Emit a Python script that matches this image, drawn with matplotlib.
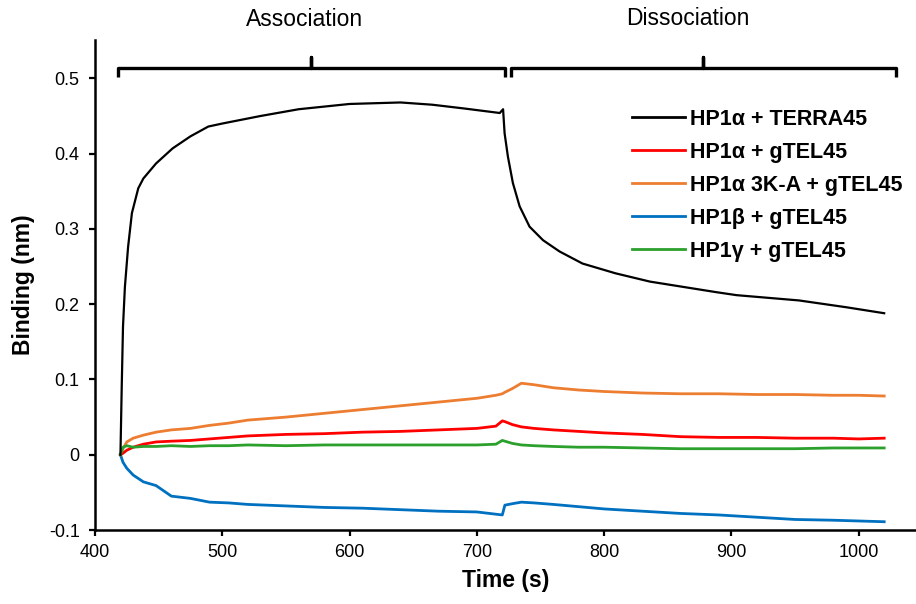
import matplotlib
matplotlib.use("Agg")
import matplotlib.pyplot as plt

plt.rcParams['font.family'] = ['Liberation Sans', 'DejaVu Sans']

# HP1a + TERRA45 (own time points, steep association)
black_t = [420, 421, 422, 423.5, 426, 429, 434, 438, 448, 461, 475, 489, 500,
           530, 560, 600, 640, 665, 690, 718, 720.6, 721.8, 724.4, 728.3, 733.6,
           741.4, 752, 765, 783, 809, 836, 862, 888, 904, 953, 990, 1020]
black_v = [0.0, 0.09, 0.17, 0.223, 0.276, 0.321, 0.354, 0.367, 0.387, 0.407,
           0.423, 0.436, 0.440, 0.450, 0.459, 0.466, 0.468, 0.465, 0.460, 0.454,
           0.459, 0.427, 0.396, 0.361, 0.330, 0.303, 0.285, 0.270, 0.254, 0.241,
           0.230, 0.223, 0.216, 0.212, 0.205, 0.196, 0.188]

# time points for the gTEL45 traces
time = [420, 422, 425, 430, 438, 448, 460, 475, 490, 505, 520, 550, 580, 610,
        640, 670, 700, 715, 720, 722, 728, 735, 745, 760, 780, 800, 830, 860,
        890, 920, 950, 980, 1000, 1020]

red_v = [0.0, 0.002, 0.006, 0.010, 0.014, 0.017, 0.018, 0.019, 0.021, 0.023,
         0.025, 0.027, 0.028, 0.030, 0.031, 0.033, 0.035, 0.038, 0.045, 0.044,
         0.040, 0.037, 0.035, 0.033, 0.031, 0.029, 0.027, 0.024, 0.023, 0.023,
         0.022, 0.022, 0.021, 0.022]

orange_v = [0.0, 0.008, 0.017, 0.022, 0.026, 0.030, 0.033, 0.035, 0.039, 0.042,
            0.046, 0.050, 0.055, 0.060, 0.065, 0.070, 0.075, 0.079, 0.081, 0.083,
            0.088, 0.095, 0.093, 0.089, 0.086, 0.084, 0.082, 0.081, 0.081, 0.080,
            0.080, 0.079, 0.079, 0.078]

blue_v = [0.0, -0.010, -0.018, -0.027, -0.036, -0.041, -0.055, -0.058, -0.063,
          -0.064, -0.066, -0.068, -0.070, -0.071, -0.073, -0.075, -0.076, -0.079,
          -0.080, -0.067, -0.065, -0.063, -0.064, -0.066, -0.069, -0.072, -0.075,
          -0.078, -0.080, -0.083, -0.086, -0.087, -0.088, -0.089]

green_v = [0.0, 0.010, 0.012, 0.010, 0.011, 0.011, 0.012, 0.011, 0.012, 0.012,
           0.013, 0.012, 0.013, 0.013, 0.013, 0.013, 0.013, 0.014, 0.019, 0.018,
           0.015, 0.013, 0.012, 0.011, 0.010, 0.010, 0.009, 0.008, 0.008, 0.008,
           0.008, 0.009, 0.009, 0.009]

labels = ["HP1\u03b1 + TERRA45", "HP1\u03b1 + gTEL45", "HP1\u03b1 3K-A + gTEL45",
          "HP1\u03b2 + gTEL45", "HP1\u03b3 + gTEL45"]
colors = ["#000000", "#FF0000", "#ED7D31", "#0070C0", "#2CA02C"]

yticks = [-0.1, 0, 0.1, 0.2, 0.3, 0.4, 0.5]
ytick_labels = ["-0.1", "0", "0.1", "0.2", "0.3", "0.4", "0.5"]
xticks = [400, 500, 600, 700, 800, 900, 1000]

fig = plt.figure(figsize=(9.16, 6.04), dpi=100)
ax = fig.add_axes([0.1037, 0.1225, 0.8963, 0.8113])

ax.plot(black_t, black_v, color=colors[0], lw=1.6, label=labels[0], zorder=6)
ax.plot(time, red_v, color=colors[1], lw=2.0, label=labels[1], zorder=4)
ax.plot(time, orange_v, color=colors[2], lw=2.0, label=labels[2], zorder=3)
ax.plot(time, blue_v, color=colors[3], lw=2.0, label=labels[3], zorder=2)
ax.plot(time, green_v, color=colors[4], lw=2.0, label=labels[4], zorder=5)

ax.set_xlim(400, 1045)
ax.set_ylim(-0.1, 0.551)
ax.set_xticks(xticks)
ax.set_yticks(yticks)
ax.set_yticklabels(ytick_labels)
ax.tick_params(axis='both', direction='out', length=4, width=1.6, labelsize=13)
ax.tick_params(axis='y', pad=7)
ax.tick_params(axis='x', pad=6)

for side in ['top', 'right']:
    ax.spines[side].set_visible(False)
for side in ['left', 'bottom']:
    ax.spines[side].set_linewidth(1.8)

ax.set_xlabel('Time (s)', fontsize=16.5, fontweight='bold', labelpad=6)
ax.set_ylabel('Binding (nm)', fontsize=16.5, fontweight='bold', labelpad=10)

# brackets over the association / dissociation phases
tip, top, peak = 0.502, 0.514, 0.529
for x0, xm, x1 in [(418, 569.5, 721.8), (726.5, 878, 1029.5)]:
    ax.plot([x0, x0, xm, xm, xm, x1, x1], [tip, top, top, peak, top, top, tip],
            color='black', lw=2.4, solid_joinstyle='round',
            solid_capstyle='butt', clip_on=False)

ax.text(565, 0.578, 'Association', ha='center', va='center', fontsize=16.5,
        clip_on=False)
ax.text(866, 0.580, 'Dissociation', ha='center', va='center', fontsize=16.5,
        clip_on=False)

leg = ax.legend(loc='upper left', bbox_to_anchor=(0.69, 0.820),
                bbox_transform=fig.transFigure, frameon=False,
                borderpad=0, borderaxespad=0, handlelength=2.45,
                handletextpad=0.25, labelspacing=0.56,
                prop={'weight': 'bold', 'size': 15.5})
for line in leg.get_lines():
    line.set_linewidth(2.0)

plt.savefig("out.png", dpi=100)
